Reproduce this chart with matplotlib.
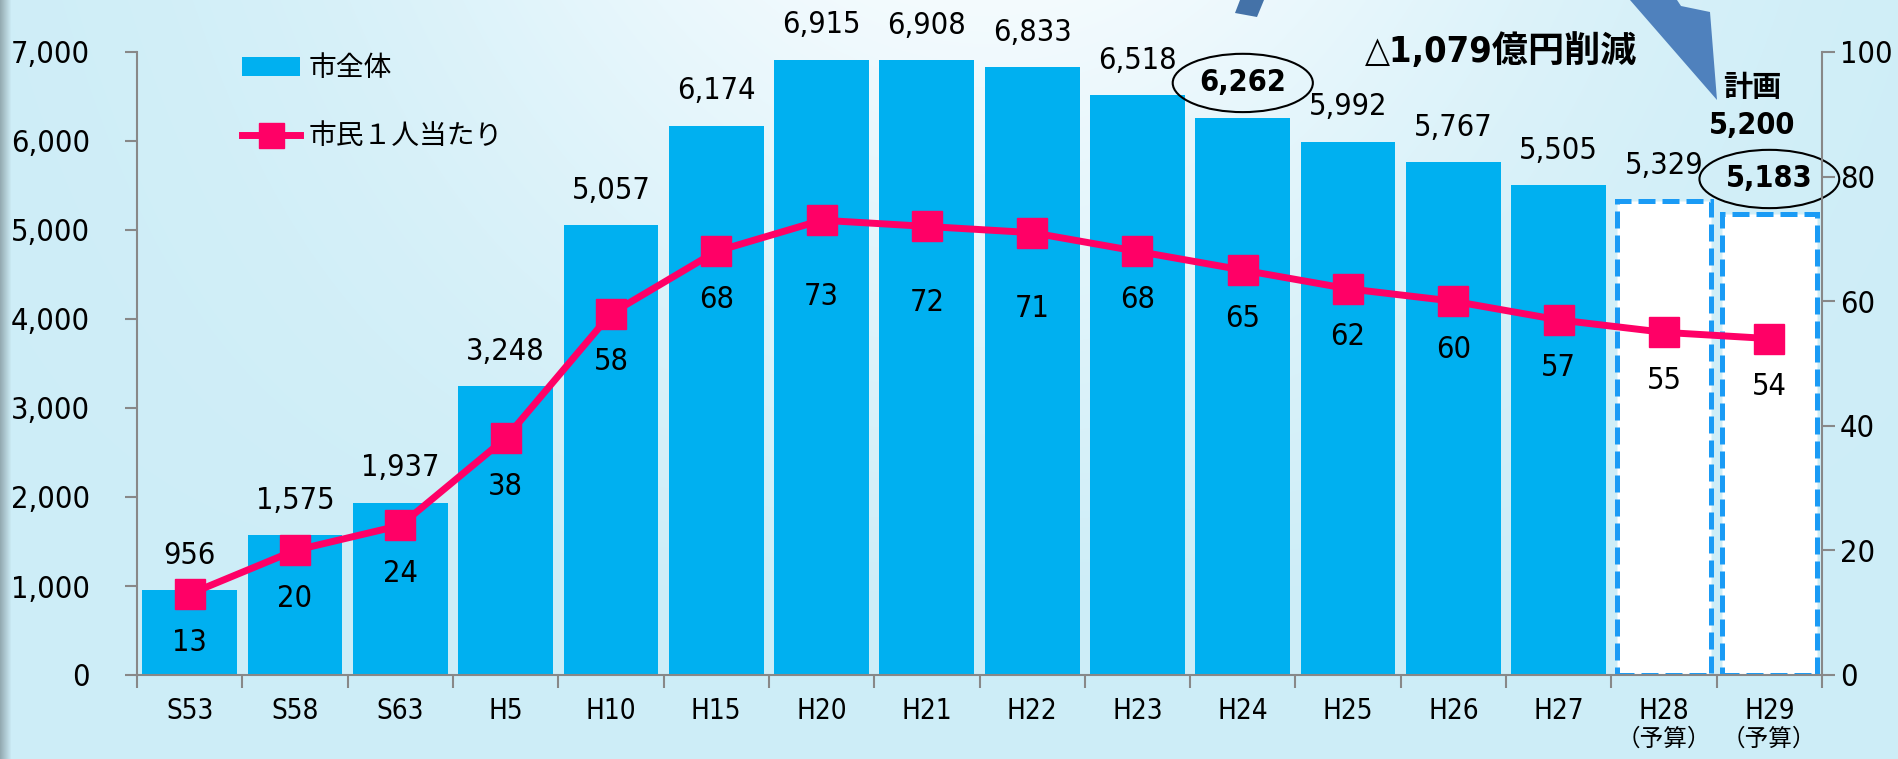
import numpy as np
import matplotlib

matplotlib.use("Agg")
import matplotlib.pyplot as plt
from matplotlib.lines import Line2D
from matplotlib.patches import Patch, Polygon

plt.rcParams["font.family"] = ["DejaVu Sans", "Noto Sans CJK JP"]
plt.rcParams["font.stretch"] = "condensed"

# --- data -------------------------------------------------------------
years = ["S53", "S58", "S63", "H5", "H10", "H15", "H20", "H21", "H22",
         "H23", "H24", "H25", "H26", "H27", "H28", "H29"]
city_total = [956, 1575, 1937, 3248, 5057, 6174, 6915, 6908, 6833,
              6518, 6262, 5992, 5767, 5505, 5329, 5183]
per_capita = [13, 20, 24, 38, 58, 68, 73, 72, 71, 68, 65, 62, 60, 57, 55, 54]
budget_years = ["H28", "H29"]
circled = ["H24", "H29"]
plan_value = 5200
reduction = 1079
budget_note = "（予算）"

# --- style ------------------------------------------------------------
W, H, DPI = 1898, 759, 100
BAR = "#00B0F0"
DASH = "#1A9BF5"
LINE = "#FF0066"
GRAY = "#888888"
ARROW = "#4F81BD"

# label drop below markers (px); a few were pushed lower in the original
drop_px = [48] * len(years)
for k in ("H20", "H21", "H22"):
    drop_px[years.index(k)] = 76

fig = plt.figure(figsize=(W / DPI, H / DPI), dpi=DPI)

# background gradient
bg = fig.add_axes([0, 0, 1, 1], zorder=-10)
xx, yy = np.meshgrid(np.linspace(0, 1, W), np.linspace(0, 1, H))
base = np.array([205, 237, 247]) / 255
white = np.array([244, 251, 254]) / 255
w = np.exp(-((xx - 0.52) / 0.3) ** 2) * np.clip(1 - yy / 0.8, 0, 1)
img = base + (white - base) * w[..., None]
edge = np.clip(1 - xx * W / 11, 0, 1)
img = img * (1 - 0.28 * edge[..., None])
bg.imshow(img, aspect="auto", extent=[0, 1, 0, 1])
bg.axis("off")


def px(x, y):
    return x / W, 1 - y / H


# arrows cut at top edge
fig.patches.append(Polygon([px(1235, 13), px(1257, 17), px(1264, 0), px(1240, 0)],
                           closed=True, transform=fig.transFigure,
                           facecolor="#4472A8", edgecolor="none"))
fig.patches.append(Polygon([px(1630, 0), px(1677, 0), px(1681, 6), px(1710, 12), px(1717, 100)],
                           closed=True, transform=fig.transFigure,
                           facecolor=ARROW, edgecolor="none"))

left, right, top, bottom = 137, 1822, 52, 675
ax = fig.add_axes([left / W, 1 - bottom / H, (right - left) / W, (bottom - top) / H])
ax.patch.set_alpha(0)
ax2 = ax.twinx()

x = np.arange(len(years)) + 0.5
solid = [i for i, y in enumerate(years) if y not in budget_years]
budget = [i for i, y in enumerate(years) if y in budget_years]

ax.bar(x[solid], [city_total[i] for i in solid], width=0.9, color=BAR, zorder=2)
ax.bar(x[budget], [city_total[i] for i in budget], width=0.9, facecolor="white",
       edgecolor=DASH, linewidth=3.6, linestyle=(0, (3.4, 1.4)), zorder=2)

ax2.plot(x, per_capita, color=LINE, lw=5, marker="s", ms=22, zorder=3,
         solid_joinstyle="round")

# bar value labels
for i, v in enumerate(city_total):
    kw = dict(ha="center", va="center", fontsize=22, textcoords="offset points",
              xytext=(0, 25))
    if years[i] in circled:
        ax.annotate(f"{v:,}", (x[i], v), fontweight="bold",
                    bbox=dict(boxstyle="ellipse,pad=0.2", fc="none", ec="black", lw=1.5),
                    **kw)
    else:
        ax.annotate(f"{v:,}", (x[i], v), **kw)

# per-capita labels
for i, v in enumerate(per_capita):
    ax2.annotate(str(v), (x[i], v), xytext=(0, -drop_px[i] * 72 / DPI),
                 textcoords="offset points", ha="center", va="center", fontsize=22)

# axes
ax.set_xlim(0, len(years))
ax.set_ylim(0, 7000)
ax2.set_ylim(0, 100)
ax.set_yticks(range(0, 7001, 1000))
ax.set_yticklabels([f"{v:,}" for v in range(0, 7001, 1000)])
ax2.set_yticks(range(0, 101, 20))
ax.set_xticks(np.arange(len(years) + 1))
ax.set_xticklabels([])
ax.set_xticks(x, minor=True)
ax.set_xticklabels(years, minor=True)
ax.tick_params(axis="x", which="major", length=9, width=1.5, color=GRAY)
ax.tick_params(axis="x", which="minor", length=0, pad=16, labelsize=20)
ax.tick_params(axis="y", length=9, width=1.5, color=GRAY, pad=25, labelsize=22)
ax2.tick_params(axis="y", length=9, width=1.5, color=GRAY, pad=4, labelsize=22)

for s in ("top", "right"):
    ax.spines[s].set_visible(False)
for s in ("top", "left", "bottom"):
    ax2.spines[s].set_visible(False)
for a, s in ((ax, "left"), (ax, "bottom"), (ax2, "right")):
    a.spines[s].set_color(GRAY)
    a.spines[s].set_linewidth(1.5)

for i in budget:
    ax.text(x[i], -0.103, budget_note, transform=ax.get_xaxis_transform(),
            ha="center", va="center", fontsize=17)

# legend
handles = [Patch(facecolor=BAR, edgecolor="none"),
           Line2D([], [], color=LINE, lw=5, marker="s", ms=18)]
ax.legend(handles, ["市全体", "市民１人当たり"], loc="upper left",
          bbox_to_anchor=px(242, 54), bbox_transform=fig.transFigure,
          frameon=False, fontsize=20, borderpad=0, borderaxespad=0,
          labelspacing=1.45, handlelength=2.1, handletextpad=0.3)

# annotations
fig.text(*px(1501, 51), f"△{reduction:,}億円削減", ha="center", va="center",
         fontsize=26, fontweight="bold")
fig.text(*px(1752, 88), "計画", ha="center", va="center", fontsize=21, fontweight="bold")
fig.text(*px(1752, 125), f"{plan_value:,}", ha="center", va="center",
         fontsize=22, fontweight="bold")

fig.savefig("out.png", dpi=DPI)
